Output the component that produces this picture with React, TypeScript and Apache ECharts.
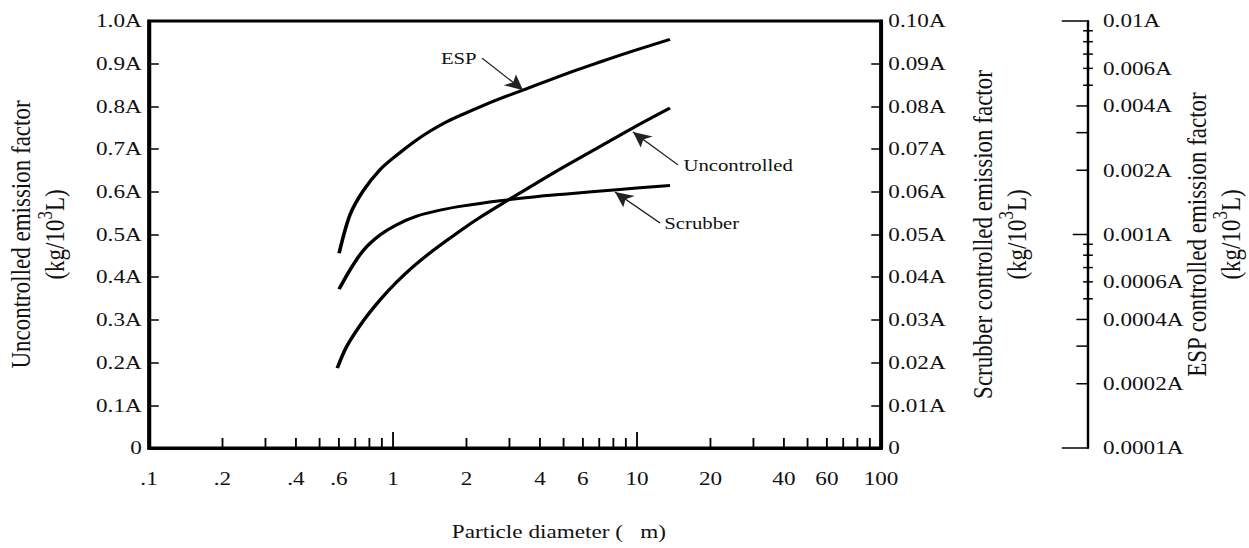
import React, { useEffect, useRef } from "react";
import * as echarts from "echarts";

// ---- data ----
// Uncontrolled emission factor (left axis, multiples of A)
const DIAMETER_UNC = [0.591, 0.646, 0.756, 0.885, 1.036, 1.211, 1.418, 1.66, 1.942, 2.273, 2.745, 3.758, 5.151, 7.053, 9.656, 13.65];
const UNCONTROLLED = [0.187, 0.238, 0.298, 0.347, 0.389, 0.425, 0.457, 0.486, 0.514, 0.54, 0.569, 0.616, 0.662, 0.706, 0.75, 0.796];

// Scrubber controlled emission factor (right axis, multiples of A)
const DIAMETER_SCR = [0.601, 0.666, 0.756, 0.885, 1.036, 1.251, 1.558, 1.942, 2.745, 3.758, 5.151, 8.257, 13.65];
const SCRUBBER = [0.0372, 0.0417, 0.0463, 0.0499, 0.0523, 0.0543, 0.0557, 0.0567, 0.0579, 0.0588, 0.0595, 0.0605, 0.0615];

// ESP controlled emission factor (far right log axis, multiples of A)
const DIAMETER_ESP = [0.601, 0.666, 0.756, 0.885, 1.036, 1.211, 1.418, 1.66, 1.942, 2.273, 2.745, 3.475, 5.151, 7.053, 9.656, 13.65];
const ESP = [0.000817, 0.001236, 0.001607, 0.002014, 0.002355, 0.002704, 0.003048, 0.003373, 0.003664, 0.003963, 0.004325, 0.004786, 0.005675, 0.006427, 0.007244, 0.008204];

// axis ticks / labels
const X_TICKS = [0.2, 0.3, 0.4, 0.5, 0.6, 0.7, 0.8, 0.9, 1, 2, 3, 4, 5, 6, 7, 8, 9, 10, 20, 30, 40, 50, 60, 70, 80, 90];
const X_TICK_LABELS = [0.1, 0.2, 0.4, 0.6, 1, 2, 4, 6, 10, 20, 40, 60, 100];
const ESP_TICKS = [0.0001, 0.0002, 0.0003, 0.0004, 0.0005, 0.0006, 0.0007, 0.0008, 0.0009, 0.001, 0.002, 0.003, 0.004, 0.005, 0.006, 0.007, 0.008, 0.009, 0.01];
const ESP_TICK_LABELS = [0.0001, 0.0002, 0.0004, 0.0006, 0.001, 0.002, 0.004, 0.006, 0.01];

const SERIES_NAMES = ["Uncontrolled", "Scrubber", "ESP"];

// ---- layout ----
const PAGE_W = 1249;
const CHART_W = 1024;
const CHART_H = 548;
const STRETCH = PAGE_W / CHART_W;
const ESP_OFFSET = 169.7;
const FONT = "Liberation Serif";
const INK = "#000";
const TXT = "#111";

const zip = (xs: number[], ys: number[]) => xs.map((x, i) => [x, ys[i]]);

const titleRich = {
  t: { fontFamily: FONT, fontSize: 23, lineHeight: 22, color: TXT },
  u: { fontFamily: FONT, fontSize: 23, lineHeight: 34, color: TXT },
  s: { fontFamily: FONT, fontSize: 17, lineHeight: 14, verticalAlign: "top", color: TXT },
};

const twoLineTitle = (first: string) => `{t|${first}}\n{u|(kg/10}{s|3}{u|L)}`;

function buildOption(): any {
  const fmtX = (v: number) => (v < 1 ? String(v).replace(/^0/, "") : String(v));
  const isDecade = (v: number) => Math.abs(Math.log10(v) - Math.round(Math.log10(v))) < 1e-6;

  const lineSeries = (name: string, xs: number[], ys: number[], yIdx: number) => ({
    name,
    type: "line",
    xAxisIndex: 0,
    yAxisIndex: yIdx,
    data: zip(xs, ys),
    smooth: 0.3,
    symbol: "none",
    showSymbol: false,
    silent: true,
    lineStyle: { color: INK, width: 3 },
    z: 3,
  });

  const unc: any = lineSeries(SERIES_NAMES[0], DIAMETER_UNC, UNCONTROLLED, 0);
  // call-outs, in left-axis units
  unc.markLine = {
    silent: true,
    symbol: ["none", "arrow"],
    symbolSize: [11, 15],
    label: { show: false },
    emphasis: { disabled: true },
    lineStyle: { color: "#222", width: 1.2, type: "solid" },
    data: [
      [{ coord: [2.317, 0.913] }, { coord: [3.41, 0.838] }],
      [{ coord: [14.72, 0.663] }, { coord: [9.63, 0.74] }],
      [{ coord: [12.43, 0.527] }, { coord: [8.12, 0.5995] }],
    ],
  };
  unc.markPoint = {
    silent: true,
    symbol: "circle",
    symbolSize: 1,
    itemStyle: { color: "rgba(0,0,0,0)" },
    label: { show: true, fontFamily: FONT, fontSize: 17, color: TXT },
    data: [
      { coord: [2.317, 0.913], label: { position: "left", distance: 4, formatter: SERIES_NAMES[2] } },
      { coord: [14.72, 0.663], label: { position: "right", distance: 4, formatter: SERIES_NAMES[0] } },
      { coord: [12.43, 0.527], label: { position: "right", distance: 3, formatter: SERIES_NAMES[1] } },
    ],
  };

  return {
    animation: false,
    backgroundColor: "#fff",
    grid: {
      left: 122.2,
      right: CHART_W - 722.3,
      top: 21,
      bottom: 100,
      show: true,
      borderColor: INK,
      borderWidth: 3,
      containLabel: false,
      outerBoundsMode: "none",
    },
    xAxis: [
      {
        type: "log",
        logBase: 10,
        min: 0.1,
        max: 100,
        axisLine: { show: true, onZero: false, lineStyle: { color: INK, width: 3 } },
        axisTick: { show: false },
        axisLabel: { show: false },
        splitLine: { show: false },
        name: "Particle diameter (   m)",
        nameLocation: "middle",
        nameGap: 74,
        nameTextStyle: { fontFamily: FONT, fontSize: 19, color: TXT, padding: [0, 0, 0, 72] },
      },
    ],
    yAxis: [
      {
        type: "value",
        position: "left",
        min: 0,
        max: 1,
        interval: 0.1,
        axisLine: { show: true, onZero: false, lineStyle: { color: INK, width: 3 } },
        axisTick: { show: true, inside: true, length: 8, lineStyle: { color: INK, width: 1.5 } },
        axisLabel: {
          fontFamily: FONT,
          fontSize: 19,
          color: TXT,
          margin: 6,
          formatter: (v: number) => (v === 0 ? "0" : v.toFixed(1) + "A"),
        },
        splitLine: { show: false },
        name: twoLineTitle("Uncontrolled emission factor"),
        nameLocation: "middle",
        nameRotate: 90,
        nameGap: 60,
        nameTextStyle: { fontFamily: FONT, fontSize: 23, color: TXT, rich: titleRich },
      },
      {
        type: "value",
        position: "right",
        min: 0,
        max: 0.1,
        interval: 0.01,
        axisLine: { show: true, onZero: false, lineStyle: { color: INK, width: 3 } },
        axisTick: { show: true, inside: true, length: 8, lineStyle: { color: INK, width: 1.5 } },
        axisLabel: {
          fontFamily: FONT,
          fontSize: 19,
          color: TXT,
          margin: 6,
          formatter: (v: number) => (v === 0 ? "0" : v.toFixed(2) + "A"),
        },
        splitLine: { show: false },
        name: twoLineTitle("Scrubber controlled emission factor"),
        nameLocation: "middle",
        nameRotate: 90,
        nameGap: 72,
        nameTextStyle: { fontFamily: FONT, fontSize: 23, color: TXT, rich: titleRich },
      },
      {
        type: "log",
        logBase: 10,
        position: "right",
        offset: ESP_OFFSET,
        min: 0.0001,
        max: 0.01,
        axisLine: { show: true, onZero: false, lineStyle: { color: INK, width: 2 } },
        axisTick: { show: false },
        axisLabel: { show: false },
        splitLine: { show: false },
        name: twoLineTitle("ESP controlled emission factor"),
        nameLocation: "middle",
        nameRotate: 90,
        nameGap: 78,
        nameTextStyle: { fontFamily: FONT, fontSize: 23, color: TXT, rich: titleRich },
      },
    ],
    series: [
      unc,
      lineSeries(SERIES_NAMES[1], DIAMETER_SCR, SCRUBBER, 1),
      lineSeries(SERIES_NAMES[2], DIAMETER_ESP, ESP, 2),
      // x-axis tick marks
      {
        type: "custom",
        xAxisIndex: 0,
        yAxisIndex: 0,
        silent: true,
        clip: false,
        z: 5,
        encode: { x: 0, y: 1 },
        data: X_TICKS.map((v) => [v, 0]),
        renderItem: (params: any, api: any) => {
          const v = api.value(0);
          const p = api.coord([v, 0]);
          const len = isDecade(v) ? 16 : 10;
          return {
            type: "line",
            shape: { x1: p[0], y1: p[1], x2: p[0], y2: p[1] - len },
            style: { stroke: INK, lineWidth: 1.5 },
          };
        },
      },
      // x-axis labels
      {
        type: "custom",
        xAxisIndex: 0,
        yAxisIndex: 0,
        silent: true,
        clip: false,
        z: 5,
        encode: { x: 0, y: 1 },
        data: X_TICK_LABELS.map((v) => [v, 0]),
        renderItem: (params: any, api: any) => {
          const v = api.value(0);
          const p = api.coord([v, 0]);
          return {
            type: "text",
            x: p[0],
            y: p[1] + 31,
            style: {
              text: fmtX(v),
              textAlign: "center",
              textVerticalAlign: "middle",
              fontFamily: FONT,
              fontSize: 19,
              fill: TXT,
            },
          };
        },
      },
      // ESP axis tick marks
      {
        type: "custom",
        xAxisIndex: 0,
        yAxisIndex: 2,
        silent: true,
        clip: false,
        z: 5,
        encode: { x: 0, y: 1 },
        data: ESP_TICKS.map((v) => [0.1, v]),
        renderItem: (params: any, api: any) => {
          const v = api.value(1);
          const p = api.coord([0.1, v]);
          const cs = params.coordSys;
          const ax = cs.x + cs.width + ESP_OFFSET;
          const m = Math.round(v / Math.pow(10, Math.floor(Math.log10(v) + 1e-9)));
          let x1 = ax - 4;
          let x2 = ax + 4;
          if (m === 1) {
            x1 = ax - (v > 0.005 || v < 0.0002 ? 21.5 : 12.5);
            x2 = ax;
          } else if (m <= 4) {
            x1 = ax - 9.5;
            x2 = ax;
          }
          return {
            type: "line",
            shape: { x1, y1: p[1], x2, y2: p[1] },
            style: { stroke: INK, lineWidth: 1.5 },
          };
        },
      },
      // ESP axis labels
      {
        type: "custom",
        xAxisIndex: 0,
        yAxisIndex: 2,
        silent: true,
        clip: false,
        z: 5,
        encode: { x: 0, y: 1 },
        data: ESP_TICK_LABELS.map((v) => [0.1, v]),
        renderItem: (params: any, api: any) => {
          const v = api.value(1);
          const p = api.coord([0.1, v]);
          const cs = params.coordSys;
          const ax = cs.x + cs.width + ESP_OFFSET;
          return {
            type: "text",
            x: ax + 12.3,
            y: p[1],
            style: {
              text: String(v) + "A",
              textAlign: "left",
              textVerticalAlign: "middle",
              fontFamily: FONT,
              fontSize: 19,
              fill: TXT,
            },
          };
        },
      },
    ],
  };
}

export default function App() {
  const ref = useRef<HTMLDivElement>(null);
  useEffect(() => {
    document.body.style.margin = "0";
    if (!ref.current) return;
    const chart = echarts.init(ref.current, null, { renderer: "svg", width: CHART_W, height: CHART_H });
    chart.setOption(buildOption());
    return () => chart.dispose();
  }, []);
  return (
    <div style={{ position: "fixed", left: 0, top: 0, width: PAGE_W, height: CHART_H, overflow: "hidden", background: "#fff" }}>
      <div
        ref={ref}
        style={{ width: CHART_W, height: CHART_H, transform: `scaleX(${STRETCH})`, transformOrigin: "0 0" }}
      />
    </div>
  );
}
